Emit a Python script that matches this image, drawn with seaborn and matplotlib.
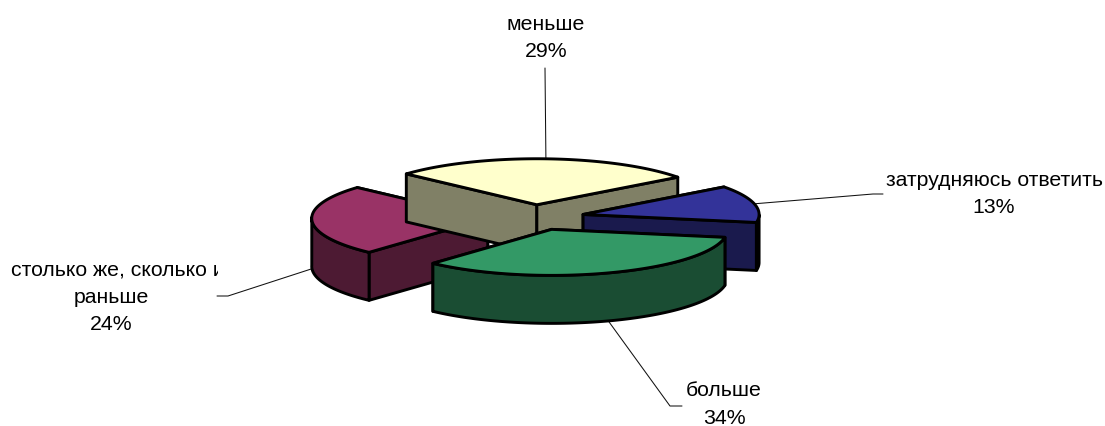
import numpy as np
import matplotlib
matplotlib.use("Agg")
import matplotlib.pyplot as plt
from matplotlib.transforms import Bbox
import seaborn as sns

# --- data -------------------------------------------------------------
categories = ["больше", "столько же, сколько и\nраньше", "меньше", "затрудняюсь ответить"]
shares = [34, 24, 29, 13]
top_colors = ["#339966", "#993366", "#FFFFCC", "#333399"]
wall_colors = ["#1A4D33", "#4D1A33", "#808066", "#1A1A4D"]

# --- layout -----------------------------------------------------------
START = 10.0
CX, CY = 536.0, 217.4
RX, RY = 176.0, 46.0
DEPTH = 48.0
EXPLODE = 0.275
LW = 2.1
FONT = 15.3
LINE_STEP = 27.5
draw_order = [1, 2, 3, 0]
# centre x of every text line, y of the first line
label_x = [[724, 724], [117.5, 111, 111], [546, 546], [994, 994]]
label_y = [391, 270, 24, 180]
leader_ends = [[(670, 406), (682, 406)], [(228, 296), (217, 296)], [(545, 68)], [(873, 194), (883, 194)]]
text_clip_right = {1: 218}

sns.set_theme(style="white")
plt.rcParams["font.family"] = ["Liberation Sans", "DejaVu Sans"]

fig = plt.figure(figsize=(11.05, 4.26), dpi=100)
ax = fig.add_axes([0, 0, 1, 1])
ax.set_xlim(0, 1105)
ax.set_ylim(426, 0)
ax.axis("off")

shares_arr = np.asarray(shares, dtype=float)
ends = START + np.cumsum(shares_arr) / shares_arr.sum() * 360
starts = ends - shares_arr / shares_arr.sum() * 360


def perspective(t):
    """Far side of the tilted pie looks slightly compressed."""
    t = np.asarray(t, dtype=float)
    a, b = ends[0], ends[2]
    return t + np.where((t > a) & (t < b), 3.4 * np.sin(np.pi * (t - a) / (b - a)) ** 2, 0.0)


def rim(center, t):
    t = np.radians(perspective(t))
    return np.column_stack([center[0] + RX * np.cos(t), center[1] + RY * np.sin(t)])


def wall(pts):
    return np.vstack([pts, pts[::-1] + [0, DEPTH]])


def centre(s, e):
    mid = np.radians((s + e) / 2)
    return np.array([CX + EXPLODE * RX * np.cos(mid), CY + EXPLODE * RY * np.sin(mid)])


# leader lines sit behind the pie
for i, tail in enumerate(leader_ends):
    s, e = starts[i], ends[i]
    mid = (s + e) / 2
    p = rim(centre(s, e), [mid])[0] + [0, DEPTH if np.sin(np.radians(mid)) > 0 else 0]
    pts = np.vstack([p, tail])
    ax.plot(pts[:, 0], pts[:, 1], color="#111111", lw=0.75, zorder=1)

zorder = 2
for i in draw_order:
    s, e = starts[i], ends[i]
    c = centre(s, e)
    ts = np.linspace(s, e, 160)
    arc = rim(c, ts)
    kw = dict(edgecolor="black", lw=LW, joinstyle="round", zorder=zorder)
    # radial walls, the one further back first
    for t in sorted((s, e), key=lambda v: rim(c, [v])[0, 1]):
        edge = np.vstack([c, rim(c, [t])])
        ax.fill(*wall(edge).T, facecolor=wall_colors[i], **kw)
    # outer wall: only the part of the rim that faces the viewer
    vis = np.sin(np.radians(ts)) >= 0
    if vis.any():
        ax.fill(*wall(arc[vis]).T, facecolor=wall_colors[i], **kw)
    # top face
    ax.fill(*np.vstack([c, arc]).T, facecolor=top_colors[i], **kw)
    zorder += 1

# labels
for i, (cat, share) in enumerate(zip(categories, shares)):
    lines = cat.split("\n") + [f"{share}%"]
    for k, line in enumerate(lines):
        t = ax.text(label_x[i][k], label_y[i] + k * LINE_STEP, line, ha="center", va="center",
                    fontsize=FONT, color="black", zorder=20)
        if i in text_clip_right:
            t.set_clip_on(True)
            t.set_clip_box(Bbox([[0, 0], [text_clip_right[i], 426]]))

fig.savefig("out.png", dpi=100, facecolor="white")
